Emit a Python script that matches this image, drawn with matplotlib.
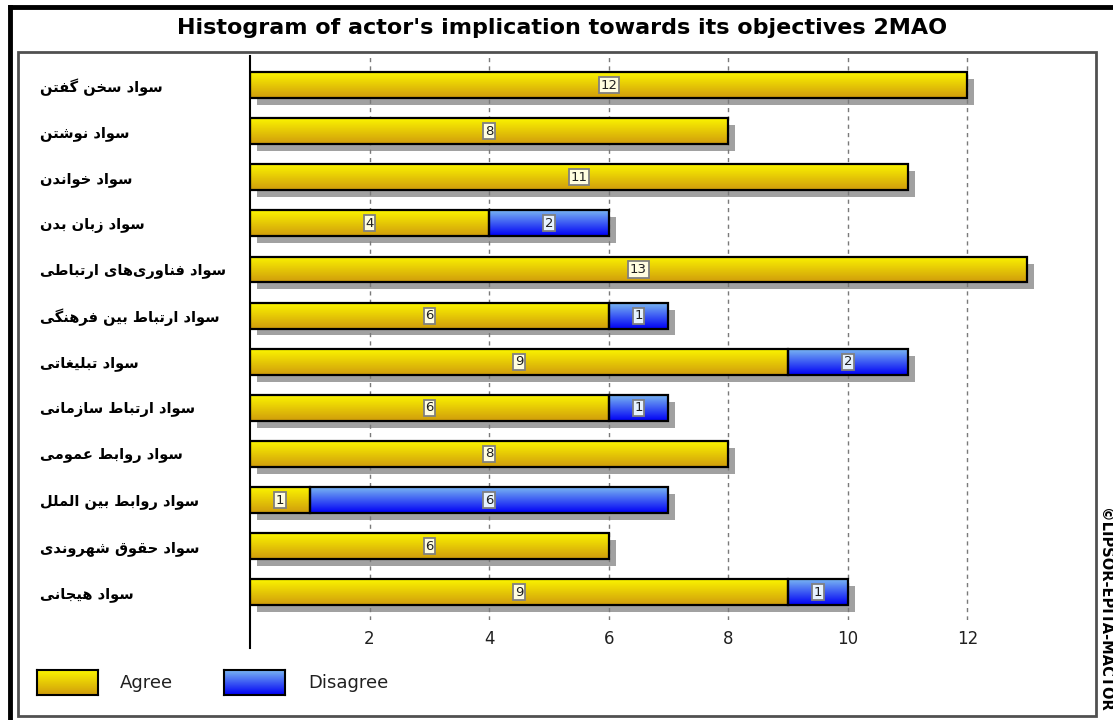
import numpy as np
import matplotlib.pyplot as plt
import matplotlib.patheffects as pe
from matplotlib.colors import LinearSegmentedColormap
from matplotlib.lines import Line2D
from matplotlib.patches import Rectangle

# data (top to bottom)
categories = [
    'سواد سخن گفتن',
    'سواد نوشتن',
    'سواد خواندن',
    'سواد زبان بدن',
    'سواد فناوری\u200cهای ارتباطی',
    'سواد ارتباط بین فرهنگی',
    'سواد تبلیغاتی',
    'سواد ارتباط سازمانی',
    'سواد روابط عمومی',
    'سواد روابط بین الملل',
    'سواد حقوق شهروندی',
    'سواد هیجانی',
]
agree = [12, 8, 11, 4, 13, 6, 9, 6, 8, 1, 6, 9]
disagree = [0, 0, 0, 2, 0, 1, 2, 1, 0, 6, 0, 1]
xticks = [2, 4, 6, 8, 10, 12]
series_names = ['Agree', 'Disagree']

# matplotlib has no arabic shaping: map letters to presentation forms, then reverse
FORMS = {
    'ا': ('\uFE8D', '\uFE8E', None, None),
    'ب': ('\uFE8F', '\uFE90', '\uFE91', '\uFE92'),
    'ت': ('\uFE95', '\uFE96', '\uFE97', '\uFE98'),
    'ج': ('\uFE9D', '\uFE9E', '\uFE9F', '\uFEA0'),
    'ح': ('\uFEA1', '\uFEA2', '\uFEA3', '\uFEA4'),
    'خ': ('\uFEA5', '\uFEA6', '\uFEA7', '\uFEA8'),
    'د': ('\uFEA9', '\uFEAA', None, None),
    'ر': ('\uFEAD', '\uFEAE', None, None),
    'ز': ('\uFEAF', '\uFEB0', None, None),
    'س': ('\uFEB1', '\uFEB2', '\uFEB3', '\uFEB4'),
    'ش': ('\uFEB5', '\uFEB6', '\uFEB7', '\uFEB8'),
    'ط': ('\uFEC1', '\uFEC2', '\uFEC3', '\uFEC4'),
    'ع': ('\uFEC9', '\uFECA', '\uFECB', '\uFECC'),
    'غ': ('\uFECD', '\uFECE', '\uFECF', '\uFED0'),
    'ف': ('\uFED1', '\uFED2', '\uFED3', '\uFED4'),
    'ق': ('\uFED5', '\uFED6', '\uFED7', '\uFED8'),
    'ک': ('\uFB8E', '\uFB8F', '\uFB90', '\uFB91'),
    'گ': ('\uFB92', '\uFB93', '\uFB94', '\uFB95'),
    'ل': ('\uFEDD', '\uFEDE', '\uFEDF', '\uFEE0'),
    'م': ('\uFEE1', '\uFEE2', '\uFEE3', '\uFEE4'),
    'ن': ('\uFEE5', '\uFEE6', '\uFEE7', '\uFEE8'),
    'ه': ('\uFEE9', '\uFEEA', '\uFEEB', '\uFEEC'),
    'و': ('\uFEED', '\uFEEE', None, None),
    'ی': ('\uFBFC', '\uFBFD', '\uFBFE', '\uFBFF'),
}


def shape_fa(text):
    out = []
    for i, ch in enumerate(text):
        if ch == '\u200c':
            continue
        if ch not in FORMS:
            out.append(ch)
            continue
        prev = text[i - 1] if i > 0 else ''
        nxt = text[i + 1] if i + 1 < len(text) else ''
        join_prev = prev in FORMS and FORMS[prev][2] is not None
        join_next = FORMS[ch][2] is not None and nxt in FORMS
        iso, fin, ini, med = FORMS[ch]
        if join_prev and join_next:
            out.append(med)
        elif join_prev:
            out.append(fin)
        elif join_next:
            out.append(ini)
        else:
            out.append(iso)
    return ''.join(reversed(out))


W, H = 1113, 720
fig = plt.figure(figsize=(W / 100, H / 100), dpi=100)
ax = fig.add_axes([250 / W, 1 - 620 / H, 810 / W, 564 / H])

y = np.arange(len(categories))
bar_h = 0.56
yellow = ('#fbf400', '#d09c0c')
blue = ('#78b4f2', '#0000f5')


def gradient_bars(vals, lefts, colors):
    idx = [i for i, v in enumerate(vals) if v > 0]
    ys = y[idx]
    ws = np.array(vals)[idx]
    ls = np.array(lefts)[idx]
    bars = ax.barh(ys, ws, left=ls, height=bar_h, color=colors[1], edgecolor='none', zorder=2)
    for b in bars:
        b.set_path_effects([pe.withSimplePatchShadow(offset=(5, -5), shadow_rgbFace='#7a7a7a', alpha=0.7)])
    cmap = LinearSegmentedColormap.from_list('g', colors)
    grad = np.linspace(0, 1, 64).reshape(-1, 1)
    for b in bars:
        x0, y0, w, h = b.get_x(), b.get_y(), b.get_width(), b.get_height()
        im = ax.imshow(grad, cmap=cmap, extent=(x0, x0 + w, y0 + h, y0), aspect='auto',
                       interpolation='bilinear', zorder=2.1)
        im.set_clip_path(b)
    ax.barh(ys, ws, left=ls, height=bar_h, fill=False, edgecolor='black', lw=1.6, zorder=2.2)
    for yi, w, l in zip(ys, ws, ls):
        ax.text(l + w / 2, yi, str(w), ha='center', va='center', fontsize=9.5, color='#202020',
                zorder=3,
                bbox=dict(boxstyle='square,pad=0.12',
                          fc='#fffde0' if colors is yellow else '#e6f2ff',
                          ec='#808080', lw=1.3))


gradient_bars(agree, [0] * len(agree), yellow)
gradient_bars(disagree, agree, blue)

ax.set_xlim(0, 13.55)
ax.set_ylim(11.6, -0.63)
ax.set_xticks(xticks)
ax.set_xticklabels([str(t) for t in xticks])
ax.set_yticks(y)
ax.set_yticklabels([shape_fa(c) for c in categories], fontweight='bold', fontsize=10.5,
                   ha='left', family='DejaVu Sans')
ax.tick_params(axis='y', length=0, pad=210 * 0.72)
ax.tick_params(axis='x', length=0, pad=7, labelsize=12, labelcolor='#202020')
ax.grid(axis='x', color='#7a7a7a', linestyle=(0, (3, 3)), lw=1, zorder=0)
ax.set_axisbelow(True)
for s in ['top', 'right', 'bottom']:
    ax.spines[s].set_visible(False)
ax.spines['left'].set_linewidth(1.5)
ax.spines['left'].set_bounds(12.21, -0.63)

# title and frames
fig.text(562 / W, 1 - 28 / H, "Histogram of actor's implication towards its objectives 2MAO",
         ha='center', va='center', fontsize=16, fontweight='bold')
fig.add_artist(Line2D([10 / W, 1], [1 - 7 / H, 1 - 7 / H], color='black', lw=3.5))
fig.add_artist(Line2D([10 / W, 10 / W], [0, 1 - 7 / H], color='black', lw=3.5))
fig.add_artist(Rectangle((18 / W, 1 - 716 / H), (1096 - 18) / W, (716 - 52) / H,
                         transform=fig.transFigure, fill=False, ec='#505050', lw=2))
fig.text(1104 / W, 1 - 610 / H, '©LIPSOR-EPITA-MACTOR', rotation=-90, ha='center', va='center',
         fontsize=10.5, fontweight='bold')

# legend swatches
grad = np.linspace(0, 1, 64).reshape(-1, 1)
for x0, colors, name, tx in [(37, yellow, series_names[0], 120), (224, blue, series_names[1], 308)]:
    sw = fig.add_axes([x0 / W, 1 - 695 / H, 61 / W, 25 / H])
    sw.imshow(grad, cmap=LinearSegmentedColormap.from_list('g', colors), aspect='auto',
              interpolation='bilinear')
    sw.set_xticks([])
    sw.set_yticks([])
    for s in sw.spines.values():
        s.set_linewidth(1.5)
    fig.text(tx / W, 1 - 683 / H, name, ha='left', va='center', fontsize=13, color='#202020')

fig.savefig('out.png', dpi=100)
